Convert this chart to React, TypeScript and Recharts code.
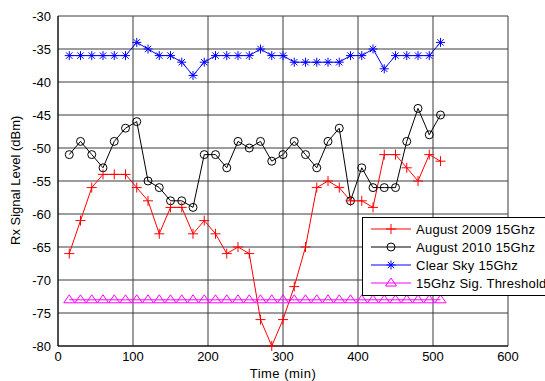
import {
  CartesianGrid,
  Legend,
  Line,
  LineChart,
  XAxis,
  YAxis,
} from "recharts";

const TIMES = [
  15, 30, 45, 60, 75, 90, 105, 120, 135, 150, 165, 180, 195, 210, 225, 240, 255,
  270, 285, 300, 315, 330, 345, 360, 375, 390, 405, 420, 435, 450, 465, 480, 495, 510,
];
const AUG_2009 = [
  -66, -61, -56, -54, -54, -54, -56, -58, -63, -59, -59, -63, -61, -63, -66, -65, -66,
  -76, -80, -76, -71, -65, -56, -55, -56, -58, -58, -59, -51, -51, -53, -55, -51, -52,
];
const AUG_2010 = [
  -51, -49, -51, -53, -49, -47, -46, -55, -56, -58, -58, -59, -51, -51, -53, -49, -50,
  -49, -52, -51, -49, -51, -53, -49, -47, -58, -53, -56, -56, -56, -49, -44, -48, -45,
];
const CLEAR_SKY = [
  -36, -36, -36, -36, -36, -36, -34, -35, -36, -36, -37, -39, -37, -36, -36, -36, -36,
  -35, -36, -36, -37, -37, -37, -37, -37, -36, -36, -35, -38, -36, -36, -36, -36, -34,
];
const THRESHOLD = TIMES.map(() => -73);

const X_TICKS = [0, 100, 200, 300, 400, 500, 600];
const Y_TICKS = [-80, -75, -70, -65, -60, -55, -50, -45, -40, -35, -30];

const FONT = "'Liberation Sans', Arial, sans-serif";

const RED = "#ff0000";
const BLACK = "#000000";
const BLUE = "#0000ff";
const MAGENTA = "#ff00ff";

const data = TIMES.map((t, i) => ({
  t,
  a09: AUG_2009[i],
  a10: AUG_2010[i],
  clear: CLEAR_SKY[i],
  thr: THRESHOLD[i],
}));

type DotProps = { cx?: number; cy?: number; index?: number };

function plus(color: string, cx: number, cy: number, key?: string) {
  return (
    <g key={key}>
      <line x1={cx - 5} y1={cy} x2={cx + 5} y2={cy} stroke={color} strokeWidth={1} />
      <line x1={cx} y1={cy - 5} x2={cx} y2={cy + 5} stroke={color} strokeWidth={1} />
    </g>
  );
}
function circle(color: string, cx: number, cy: number, key?: string) {
  return <circle key={key} cx={cx} cy={cy} r={4} fill="none" stroke={color} strokeWidth={1} />;
}
function star(color: string, cx: number, cy: number, key?: string) {
  const r = 4.5;
  const d = r * 0.707;
  return (
    <g key={key} stroke={color} strokeWidth={1}>
      <line x1={cx - r} y1={cy} x2={cx + r} y2={cy} />
      <line x1={cx} y1={cy - r} x2={cx} y2={cy + r} />
      <line x1={cx - d} y1={cy - d} x2={cx + d} y2={cy + d} />
      <line x1={cx - d} y1={cy + d} x2={cx + d} y2={cy - d} />
    </g>
  );
}
function tri(color: string, cx: number, cy: number, key?: string) {
  return (
    <polygon
      key={key}
      points={`${cx},${cy - 5} ${cx - 5.5},${cy + 3} ${cx + 5.5},${cy + 3}`}
      fill="none"
      stroke={color}
      strokeWidth={1}
    />
  );
}

// dot renderer for a series
const mk = (fn: typeof plus, color: string) => (p: DotProps) =>
  fn(color, p.cx ?? 0, p.cy ?? 0, `d${p.index}`);

const LEGEND_ITEMS = [
  { label: "August 2009 15Ghz", color: RED, fn: plus },
  { label: "August 2010 15Ghz", color: BLACK, fn: circle },
  { label: "Clear Sky 15Ghz", color: BLUE, fn: star },
  { label: "15Ghz Sig. Threshold", color: MAGENTA, fn: tri },
];

function LegendBox() {
  return (
    <div
      style={{
        border: "1.5px solid #000",
        background: "#fff",
        width: 190,
        padding: "2px 0 3px 0",
        fontFamily: FONT,
        fontSize: 13,
        letterSpacing: 0.25,
        color: "#000",
      }}
    >
      {LEGEND_ITEMS.map((it) => (
        <div key={it.label} style={{ display: "flex", alignItems: "center", height: 18 }}>
          <svg width={53} height={18} style={{ flex: "none" }}>
            <line x1={8} y1={9} x2={48} y2={9} stroke={it.color} strokeWidth={1} />
            {it.fn(it.color, 28, 9)}
          </svg>
          <span style={{ whiteSpace: "nowrap" }}>{it.label}</span>
        </div>
      ))}
    </div>
  );
}

export default function App() {
  return (
    <div style={{ width: 545, height: 381, overflow: "hidden", background: "#fff" }}>
      <style>{`body{margin:0;}`}</style>
      <LineChart
        width={545}
        height={381}
        data={data}
        margin={{ top: 16, right: 37, left: 8, bottom: 0 }}
      >
        <CartesianGrid stroke="#3a3a3a" strokeWidth={1} />
        <XAxis
          dataKey="t"
          type="number"
          domain={[0, 600]}
          ticks={X_TICKS}
          interval={0}
          height={35}
          stroke="#000"
          tickLine={false}
          tickSize={4}
          tick={{ fill: "#000", fontSize: 13, fontFamily: FONT }}
          label={{
            value: "Time (min)",
            position: "insideBottom",
            offset: 3,
            fill: "#000",
            fontSize: 13,
            fontFamily: FONT,
            letterSpacing: 0.5,
          }}
        />
        <YAxis
          type="number"
          domain={[-80, -30]}
          ticks={Y_TICKS}
          interval={0}
          width={50}
          stroke="#000"
          tickLine={false}
          tickSize={5}
          tick={{ fill: "#000", fontSize: 13, fontFamily: FONT }}
          label={{
            value: "Rx Signal Level (dBm)",
            angle: -90,
            position: "insideLeft",
            offset: 7,
            dy: 64,
            fill: "#000",
            fontSize: 13,
            fontFamily: FONT,
          }}
        />
        <Legend
          layout="horizontal"
          verticalAlign="middle"
          align="center"
          content={() => <LegendBox />}
          wrapperStyle={{ left: 362, top: 217, width: 200 }}
        />
        <Line
          dataKey="thr"
          stroke={MAGENTA}
          strokeWidth={1}
          dot={mk(tri, MAGENTA)}
          isAnimationActive={false}
        />
        <Line
          dataKey="clear"
          stroke={BLUE}
          strokeWidth={1}
          dot={mk(star, BLUE)}
          isAnimationActive={false}
        />
        <Line
          dataKey="a10"
          stroke={BLACK}
          strokeWidth={1}
          dot={mk(circle, BLACK)}
          isAnimationActive={false}
        />
        <Line
          dataKey="a09"
          stroke={RED}
          strokeWidth={1}
          dot={mk(plus, RED)}
          isAnimationActive={false}
        />
      </LineChart>
    </div>
  );
}
